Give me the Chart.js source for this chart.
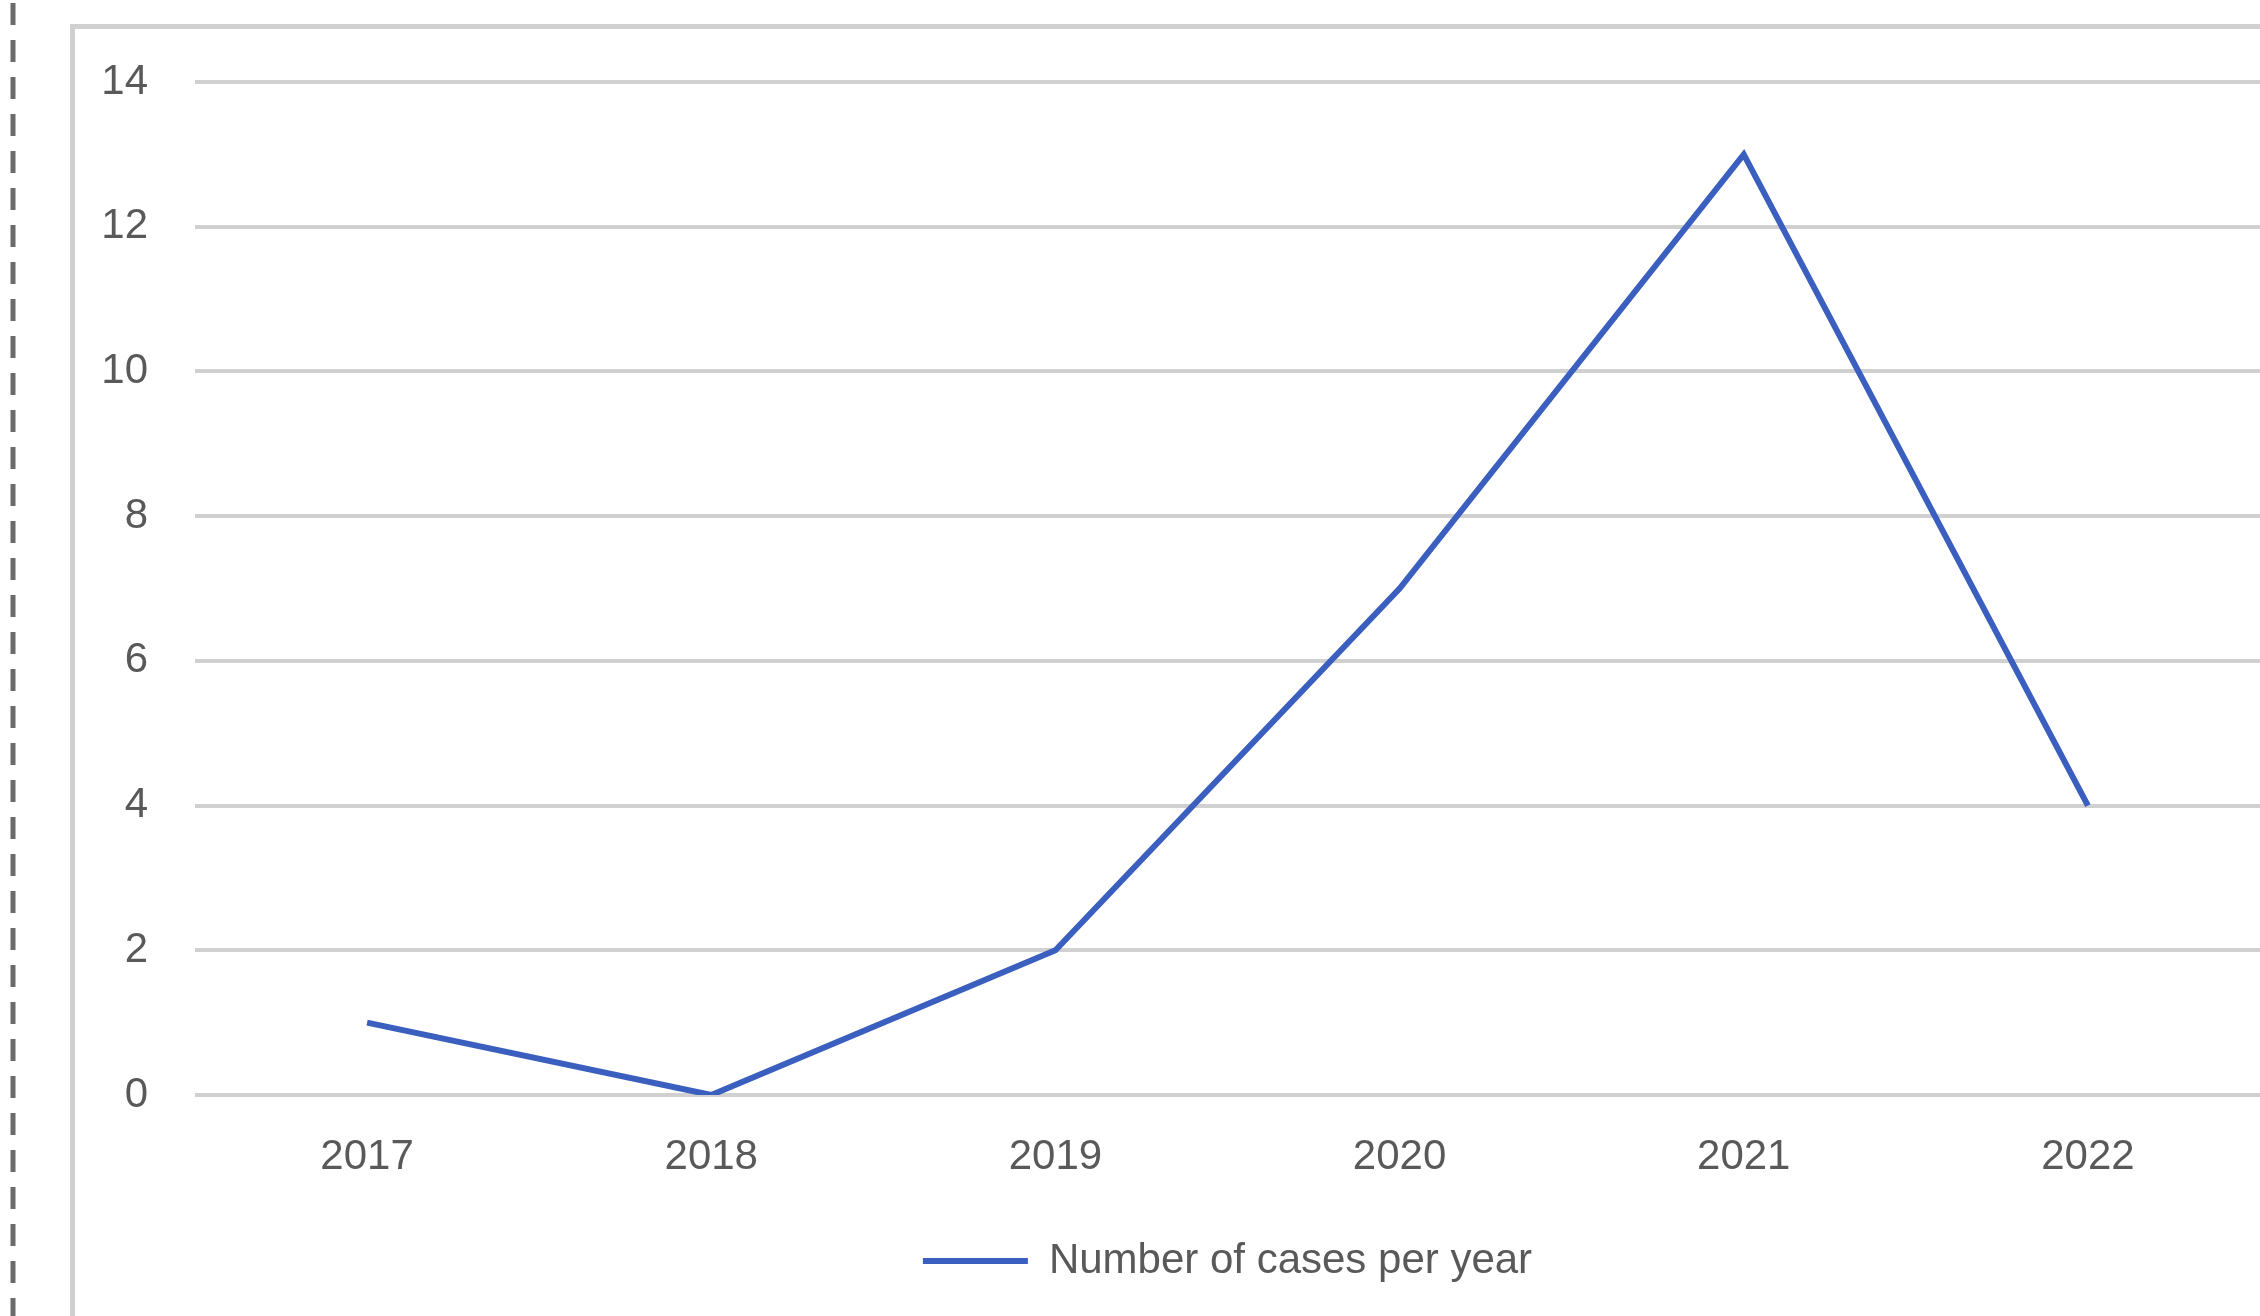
<!DOCTYPE html>
<html>
<head>
<meta charset="utf-8">
<script src="https://cdn.jsdelivr.net/npm/chart.js@4/dist/chart.umd.min.js"></script>
<style>
    html, body { margin: 0; padding: 0; background: #fff; }
    #wrap { width: 2260px; height: 1316px; position: relative; }
</style>
</head>
<body>
<div id="wrap"><canvas id="cases"></canvas></div>
<script>
const years = ['2017', '2018', '2019', '2020', '2021', '2022'];
const casesPerYear = [1, 0, 2, 7, 13, 4];
const yTicks = [0, 2, 4, 6, 8, 10, 12, 14];

const textGrey = '#595959';
const gridGrey = '#d0d0d0';
const lineBlue = '#3a5fbe';

// frame of the chart area and the dashed cut line on the left
const framePlugin = {
    id: 'frame',
    beforeDraw(chart) {
        const ctx = chart.ctx;
        ctx.save();
        ctx.strokeStyle = gridGrey;
        ctx.lineWidth = 5;
        ctx.strokeRect(72.5, 26.5, 2400, 1400);

        ctx.strokeStyle = '#6b6b6b';
        ctx.lineWidth = 5;
        ctx.setLineDash([22, 15]);
        ctx.beginPath();
        ctx.moveTo(13, 3);
        ctx.lineTo(13, 1316);
        ctx.stroke();
        ctx.restore();
    }
};

(function() {
    const data = {
        labels: years,
        datasets: [{
            label: 'Number of cases per year',
            data: casesPerYear,
            borderColor: lineBlue,
            backgroundColor: lineBlue,
            borderWidth: 6,
            pointRadius: 0,
            tension: 0,
        }],
    };

    new Chart(
        document.getElementById('cases'),
        {
            type: 'line',
            data: data,
            plugins: [framePlugin],
            options: {
                responsive: true,
                maintainAspectRatio: false,
                animation: false,
                layout: {
                    padding: { top: 82, left: 0, right: 0, bottom: 24 }
                },
                plugins: {
                    tooltip: { enabled: false },
                    legend: {
                        position: 'bottom',
                        fullSize: false,
                        labels: {
                            color: textGrey,
                            font: { family: 'Liberation Sans', size: 42 },
                            usePointStyle: true,
                            pointStyle: 'line',
                            pointStyleWidth: 105,
                            padding: 10,
                        }
                    }
                },
                scales: {
                    x: {
                        offset: true,
                        grid: { display: false, offset: true },
                        border: { display: false },
                        ticks: {
                            color: textGrey,
                            font: { family: 'Liberation Sans', size: 42 },
                            padding: 29,
                            maxRotation: 0,
                        },
                        afterFit(scale) { scale.height = 135; }
                    },
                    y: {
                        min: 0,
                        max: 14,
                        afterBuildTicks(scale) {
                            scale.ticks = yTicks.map(v => ({ value: v }));
                        },
                        grid: { color: gridGrey, lineWidth: 4, drawTicks: false },
                        border: { display: false },
                        ticks: {
                            color: textGrey,
                            font: { family: 'Liberation Sans', size: 42 },
                            padding: 47,
                        },
                        afterFit(scale) { scale.width = 195; }
                    }
                }
            },
        }
    );
})();
</script>
</body>
</html>
